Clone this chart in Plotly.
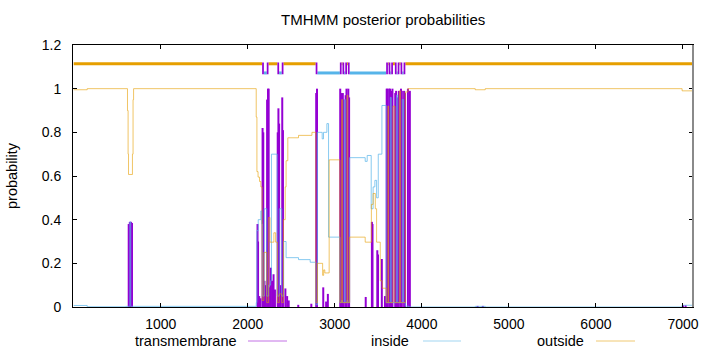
import plotly.graph_objects as go

# ---------------- data ----------------
series_names = ["transmembrane", "inside", "outside"]

# transmembrane posterior probability (drawn as impulses)
tm_pos = [632, 645, 658, 670,
          2112, 2118, 2132, 2146, 2170, 2178, 2192, 2206, 2222, 2232, 2240,
          2256, 2266, 2282, 2296, 2312, 2344, 2352, 2360, 2376, 2396, 2404,
          2432, 2452, 2470, 2580, 2730,
          2786, 2795, 2867, 2900, 2920,
          3062, 3072, 3092, 3102, 3124, 3134, 3155, 3164,
          3355, 3426, 3433, 3488, 3496, 3540, 3576,
          3596, 3604, 3624, 3634, 3654, 3662, 3694, 3704, 3726, 3736,
          3760, 3770, 3796, 3806, 3840, 3862,
          4640, 4700, 7000, 7030]
tm_val = [0.38, 0.39, 0.39, 0.385,
          0.38, 0.30, 0.05, 0.04, 0.82, 0.80, 0.12, 0.10, 0.95, 1.00, 1.00,
          0.09, 0.18, 0.12, 0.15, 0.08, 0.80, 0.91, 0.84, 0.10, 0.96, 0.81,
          0.085, 0.05, 0.03, 0.01, 0.015,
          0.98, 1.00, 0.09, 0.025, 0.06,
          1.00, 0.98, 0.98, 0.95, 0.97, 1.00, 1.00, 0.96,
          0.046, 0.39, 0.38, 0.26, 0.24, 0.22, 0.05,
          1.00, 1.00, 1.00, 1.00, 0.99, 1.00, 0.98, 0.99, 0.96, 0.99,
          1.00, 0.99, 0.99, 0.98, 1.00, 0.99,
          0.005, 0.005, 0.008, 0.008]

# inside posterior probability (step breakpoints)
in_pos = [0, 155, 600, 645, 655, 2097, 2105, 2120, 2150, 2160, 2168, 2190,
          2218, 2240, 2262, 2272, 2338, 2362, 2390, 2412, 2440, 2583, 2717,
          2782, 2801, 2855, 2870, 2909, 2928, 3058, 3078, 3088, 3108, 3120,
          3140, 3150, 3170, 3349, 3372, 3418, 3440, 3460, 3480, 3499, 3541,
          3590, 3638, 3648, 3710, 3722, 3775, 3790, 3810, 3850, 4613, 4728,
          6990, 7115]
in_val = [0.007, 0.001, 0.003, 0.39, 0.003, 0.02, 0.35, 0.40, 0.44, 0.38, 0.05, 0.45,
          0.05, 0.10, 0.12, 0.70, 0.05, 0.45, 0.05, 0.30, 0.226, 0.217, 0.205,
          0.01, 0.80, 0.77, 0.80, 0.84, 0.32, 0.02, 0.03, 0.02, 0.95, 0.02,
          0.03, 0.02, 0.684, 0.667, 0.694, 0.45, 0.55, 0.58, 0.50, 0.70, 0.923,
          0.02, 0.96, 0.02, 0.97, 0.02, 0.95, 0.02, 0.004, 0.0, 0.003, 0.0,
          0.008, 0.008]

# outside posterior probability (step breakpoints)
out_pos = [0, 155, 618, 625, 630, 675, 682, 688, 2097, 2105, 2118, 2135, 2150,
           2165, 2185, 2218, 2240, 2255, 2300, 2320, 2340, 2362, 2390, 2410,
           2430, 2440, 2460, 2583, 2737, 2782, 2801, 2860, 2872, 2885, 2935,
           3058, 3078, 3088, 3140, 3150, 3170, 3349, 3420, 3440, 3465, 3480,
           3522, 3545, 3590, 3610, 3618, 3668, 3690, 3742, 3755, 3810, 3840,
           4613, 4728, 6990, 7115]
out_val = [0.995, 1.0, 0.9, 0.7, 0.607, 0.7, 0.95, 1.0, 0.87, 0.62, 0.595, 0.575, 0.55,
           0.03, 0.25, 0.02, 0.41, 0.297, 0.34, 0.297, 0.02, 0.06, 0.02, 0.40,
           0.55, 0.67, 0.775, 0.786, 0.80, 0.02, 0.20, 0.145, 0.17, 0.156, 0.674,
           0.02, 0.95, 0.02, 0.97, 0.02, 0.32, 0.297, 0.47, 0.52, 0.45, 0.297,
           0.12, 0.086, 0.02, 0.92, 0.02, 0.92, 0.02, 0.99, 0.02, 0.985, 1.0,
           0.995, 1.0, 0.99, 0.99]

# predicted topology (segments)
topo_start = [0, 2165, 2185, 2218, 2238, 2340, 2360, 2390, 2410, 2780, 2800,
              3058, 3078, 3088, 3108, 3120, 3140, 3150, 3170,
              3590, 3610, 3618, 3638, 3648, 3668, 3690, 3710, 3722, 3742, 3755,
              3775, 3790, 3810]
topo_end = [2165, 2185, 2218, 2238, 2340, 2360, 2390, 2410, 2780, 2800, 3058,
            3078, 3088, 3108, 3120, 3140, 3150, 3170, 3590,
            3610, 3618, 3638, 3648, 3668, 3690, 3710, 3722, 3742, 3755, 3775,
            3790, 3810, 7115]
topo_kind = ["out", "TM", "in", "TM", "out", "TM", "in", "TM", "out", "TM", "in",
             "TM", "out", "TM", "in", "TM", "out", "TM", "in",
             "TM", "out", "TM", "in", "TM", "out", "TM", "in", "TM", "out", "TM",
             "in", "TM", "out"]

x_ticks = [1000, 2000, 3000, 4000, 5000, 6000, 7000]
x_tick_labels = ["1000", "2000", "3000", "4000", "5000", "6000", "7000"]
y_ticks = [0, 0.2, 0.4, 0.6, 0.8, 1.0, 1.2]
y_tick_labels = ["0", "0.2", "0.4", "0.6", "0.8", "1", "1.2"]

# ---------------- styles ----------------
PURPLE = "#9400d3"
BLUE = "#56b4e9"
ORANGE = "#e69f00"
BLUE_T = "rgba(86,180,233,0.7)"
ORANGE_T = "rgba(230,159,0,0.6)"
FONT = "Liberation Sans, Arial, sans-serif"
OUT_LEVEL = 1.114
IN_LEVEL = 1.072

W, H = 720, 352
ML, MR, MT, MB = 73, 27, 45, 45
PW, PH = W - ML - MR, H - MT - MB


def px(x):
    return (x - ML) / PW


def py(y):
    return 1 - (y - MT) / PH


fig = go.Figure()

# transmembrane impulses
ix, iy = [], []
for p, v in zip(tm_pos, tm_val):
    ix += [p, p, None]
    iy += [0, v, None]
fig.add_trace(go.Scatter(x=ix, y=iy, mode="lines", line=dict(color=PURPLE, width=2),
                         name=series_names[0], showlegend=False, hoverinfo="skip"))

fig.add_trace(go.Scatter(x=in_pos, y=in_val, mode="lines", line_shape="hv",
                         line=dict(color=BLUE_T, width=1), name=series_names[1],
                         showlegend=False))
fig.add_trace(go.Scatter(x=out_pos, y=out_val, mode="lines", line_shape="hv",
                         line=dict(color=ORANGE_T, width=1), name=series_names[2],
                         showlegend=False))

# topology band
shapes = []
for s, e, k in zip(topo_start, topo_end, topo_kind):
    if k == "out":
        fig.add_trace(go.Scatter(x=[s, e], y=[OUT_LEVEL, OUT_LEVEL], mode="lines",
                                 line=dict(color=ORANGE, width=3), showlegend=False,
                                 hoverinfo="skip"))
    elif k == "in":
        fig.add_trace(go.Scatter(x=[s, e], y=[IN_LEVEL, IN_LEVEL], mode="lines",
                                 line=dict(color=BLUE, width=3), showlegend=False,
                                 hoverinfo="skip"))
    else:
        shapes.append(dict(type="rect", xref="x", yref="y", x0=s, x1=e,
                           y0=IN_LEVEL - 0.006, y1=OUT_LEVEL + 0.006,
                           line=dict(width=0), fillcolor=PURPLE, layer="above"))

# right border (grey) as in reference
shapes.append(dict(type="line", xref="paper", yref="paper", x0=1, x1=1, y0=0, y1=1,
                   line=dict(color="#8a8a8a", width=2)))

# custom gnuplot-style legend below the plot
legend_colors = [PURPLE, BLUE, ORANGE]
legend_text_right = [239, 411, 586]
legend_line = [(248, 287), (423, 461), (596, 635)]
LEG_Y = 341
annotations = []
for name, col, tr, (l0, l1) in zip(series_names, legend_colors, legend_text_right, legend_line):
    annotations.append(dict(text=name, xref="paper", yref="paper", x=px(tr), y=py(LEG_Y),
                            xanchor="right", yanchor="middle", showarrow=False,
                            font=dict(family=FONT, size=14.5, color="#000")))
    shapes.append(dict(type="line", xref="paper", yref="paper", x0=px(l0), x1=px(l1),
                       y0=py(LEG_Y), y1=py(LEG_Y), line=dict(color=col, width=1),
                       opacity=0.55))

annotations.append(dict(text="probability", xref="paper", yref="paper", x=px(12),
                        y=py(176), textangle=-90, xanchor="center", yanchor="middle",
                        showarrow=False, font=dict(family=FONT, size=14.5, color="#000")))
annotations.append(dict(text="TMHMM posterior probabilities", xref="paper", yref="paper",
                        x=px(383), y=py(20), xanchor="center", yanchor="middle",
                        showarrow=False, font=dict(family=FONT, size=15, color="#000")))

fig.update_layout(
    width=W, height=H,
    margin=dict(l=ML, r=MR, t=MT, b=MB, pad=0),
    paper_bgcolor="white", plot_bgcolor="white",
    showlegend=False,
    shapes=shapes, annotations=annotations,
    font=dict(family=FONT, size=14, color="#000"),
)
fig.update_xaxes(range=[-8, 7115], tickvals=x_ticks, ticktext=x_tick_labels,
                 showgrid=False, zeroline=False, showline=True, linecolor="#000",
                 linewidth=1, mirror="ticks", ticks="inside", ticklen=4,
                 tickcolor="#000", ticklabelstandoff=4,
                 tickfont=dict(family=FONT, size=14, color="#000"))
fig.update_yaxes(range=[0, 1.2], tickvals=y_ticks, ticktext=y_tick_labels,
                 showgrid=False, zeroline=False, showline=True, linecolor="#000",
                 linewidth=1, mirror="ticks", ticks="inside", ticklen=4,
                 tickcolor="#000", ticklabelstandoff=8,
                 tickfont=dict(family=FONT, size=14, color="#000"))

fig.write_html("out.html")
